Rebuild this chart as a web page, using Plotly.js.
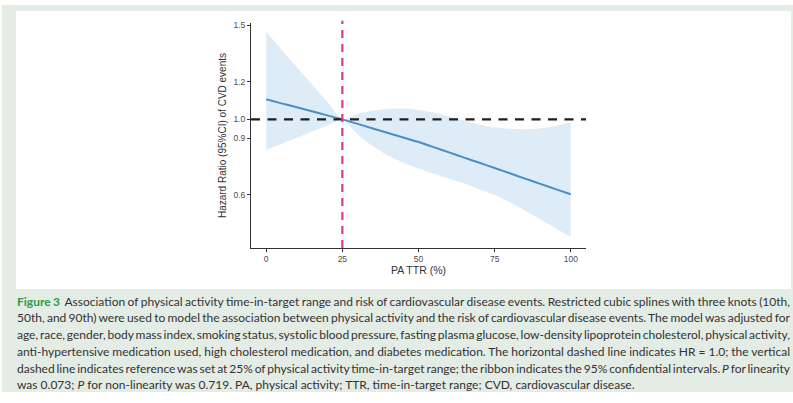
<!DOCTYPE html>
<html>
<head>
<meta charset="utf-8">
<script src="https://cdn.plot.ly/plotly-3.0.1.min.js"></script>
<style>
  html, body { margin: 0; padding: 0; width: 793px; height: 403px; overflow: hidden; background: #ffffff; }
  #frame { position: absolute; left: 2px; top: 5px; width: 791px; height: 387px; background: #e3ece5; }
  #plot { position: absolute; left: 16px; top: 11px; width: 775px; height: 278px; background: #ffffff; }
  .cap { position: absolute; left: 17px; white-space: nowrap; font-family: "Lato", "Open Sans", sans-serif;
         font-size: 12px; line-height: 17px; color: #333333; }
  .cap i { font-style: italic; }
  .fig { font-weight: bold; color: #2f9a4a; }
</style>
</head>
<body>
<div id="frame"></div>
<div id="plot"></div>
<div id="caption"></div>
<script>
// ---- data ----
const ttr = [0, 5, 10, 15, 20, 25, 30, 35, 40, 45, 50, 55, 60, 65, 70, 75, 80, 85, 90, 95, 100];
const hr = [1.107, 1.085, 1.064, 1.043, 1.021, 1.000, 0.976, 0.952, 0.928, 0.904, 0.880, 0.853, 0.825, 0.797, 0.770, 0.742, 0.714, 0.686, 0.658, 0.630, 0.603];
const ciUpper = [1.464, 1.371, 1.278, 1.186, 1.093, 1.000, 1.030, 1.046, 1.055, 1.057, 1.050, 1.037, 1.015, 0.993, 0.972, 0.958, 0.950, 0.948, 0.952, 0.965, 0.983];
const ciLower = [0.837, 0.869, 0.902, 0.935, 0.967, 1.000, 0.920, 0.858, 0.808, 0.770, 0.740, 0.712, 0.686, 0.660, 0.630, 0.600, 0.560, 0.515, 0.470, 0.423, 0.377];
const xTicks = [0, 25, 50, 75, 100];
const yTicks = [0.6, 0.9, 1.0, 1.2, 1.5];
const yTickText = ["0.6", "0.9", "1.0", "1.2", "1.5"];
const refHR = 1.0;
const refTTR = 25;
const xTitle = "PA TTR (%)";
const yTitle = "Hazard Ratio (95%CI) of CVD events";
const captionLines = [
  "Association of physical activity time-in-target range and risk of cardiovascular disease events. Restricted cubic splines with three knots (10th,",
  "50th, and 90th) were used to model the association between physical activity and the risk of cardiovascular disease events. The model was adjusted for",
  "age, race, gender, body mass index, smoking status, systolic blood pressure, fasting plasma glucose, low-density lipoprotein cholesterol, physical activity,",
  "anti-hypertensive medication used, high cholesterol medication, and diabetes medication. The horizontal dashed line indicates HR = 1.0; the vertical",
  "dashed line indicates reference was set at 25% of physical activity time-in-target range; the ribbon indicates the 95% confidential intervals. <i>P</i> for linearity",
  "was 0.073; <i>P</i> for non-linearity was 0.719. PA, physical activity; TTR, time-in-target range; CVD, cardiovascular disease."
];

const font = "Liberation Sans, Arial, sans-serif";
const traces = [
  { x: ttr, y: ciLower, type: "scatter", mode: "lines", line: { width: 0, color: "rgba(0,0,0,0)", shape: "spline", smoothing: 0.5 }, hoverinfo: "skip", showlegend: false },
  { x: ttr, y: ciUpper, type: "scatter", mode: "lines", line: { width: 0, color: "rgba(0,0,0,0)", shape: "spline", smoothing: 0.5 }, fill: "tonexty", fillcolor: "#deecf8", hoverinfo: "skip", showlegend: false },
  { x: ttr, y: hr, type: "scatter", mode: "lines", line: { width: 2, color: "#4b8dc4", shape: "spline", smoothing: 0.6 }, showlegend: false }
];

const axisCommon = {
  showline: true, linecolor: "#333333", linewidth: 1, showgrid: false, zeroline: false,
  ticks: "outside", ticklen: 3, tickwidth: 1, tickcolor: "#333333",
  tickfont: { family: font, size: 8.5, color: "#4d4d4d" }, automargin: false
};

const layout = {
  width: 775, height: 278,
  margin: { l: 235, r: 205, t: 12, b: 41 },
  paper_bgcolor: "#ffffff", plot_bgcolor: "#ffffff",
  font: { family: font },
  showlegend: false,
  xaxis: Object.assign({}, axisCommon, {
    range: [-5, 105], tickvals: xTicks,
    title: { text: xTitle, font: { family: font, size: 10.5, color: "#333333" }, standoff: 1 }
  }),
  yaxis: Object.assign({}, axisCommon, {
    range: [0.318, 1.511], tickvals: yTicks, ticktext: yTickText,
    title: { text: yTitle, font: { family: font, size: 10, color: "#333333" }, standoff: 4 }
  }),
  shapes: [
    { type: "line", xref: "paper", x0: 0, x1: 1, yref: "y", y0: refHR, y1: refHR,
      line: { color: "#1e1e1e", width: 2.2, dash: "9px,7.5px" } },
    { type: "line", xref: "x", x0: refTTR, x1: refTTR, yref: "paper", y0: 0, y1: 1.01,
      line: { color: "#d83b8f", width: 2.2, dash: "8px,6px" } }
  ]
};

Plotly.newPlot("plot", traces, layout, { displayModeBar: false, staticPlot: true });

// caption lines, justified to the frame width like the reference
const cap = document.getElementById("caption");
const centers = [301.5, 318.3, 335.0, 351.8, 368.5, 385.2];
const targetWidth = 773;
captionLines.forEach((t, i) => {
  const d = document.createElement("div");
  d.className = "cap";
  d.style.top = (centers[i] - 9) + "px";
  d.innerHTML = (i === 0 ? '<span class="fig">Figure 3</span>&nbsp; ' : "") + t;
  cap.appendChild(d);
  if (i < captionLines.length - 1) {
    const w = d.getBoundingClientRect().width;
    const spaces = (d.textContent.match(/[ \u00a0]/g) || []).length;
    if (spaces > 0) d.style.wordSpacing = ((targetWidth - w) / spaces) + "px";
  }
});
</script>
</body>
</html>
